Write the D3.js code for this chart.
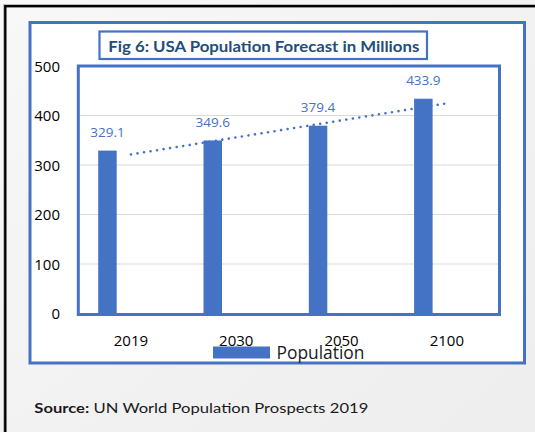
<!DOCTYPE html>
<html>
<head>
<meta charset="utf-8">
<script src="https://cdn.jsdelivr.net/npm/d3@7"></script>
<style>
  html, body { margin: 0; padding: 0; background: #f2f2f2; }
  svg { display: block; }
</style>
</head>
<body>
<svg id="chart" width="535" height="432"></svg>
<script>
// Population forecast, millions
const years = ["2019", "2030", "2050", "2100"];
const population = [329.1, 349.6, 379.4, 433.9];
const yTicks = [0, 100, 200, 300, 400, 500];
const seriesName = "Population";
const titleText = "Fig 6: USA Population Forecast in Millions";
const sourceLabel = "Source:";
const sourceText = " UN World Population Prospects 2019";

const blue = "#4472c4";
const svg = d3.select("#chart");

// page background with a soft light gradient
const defs = svg.append("defs");
const bg = defs.append("linearGradient").attr("id", "bg")
  .attr("x1", 0).attr("y1", 0).attr("x2", 1).attr("y2", 1);
bg.append("stop").attr("offset", "0%").attr("stop-color", "#f8f8f8");
bg.append("stop").attr("offset", "60%").attr("stop-color", "#f1f1f1");
bg.append("stop").attr("offset", "100%").attr("stop-color", "#eeeeee");
svg.append("rect").attr("width", 535).attr("height", 432).attr("fill", "url(#bg)");

// slide frame (top and left edges)
svg.append("rect").attr("x", 3.5).attr("y", 4.5).attr("width", 560).attr("height", 460)
  .attr("fill", "none").attr("stroke", "#bbbbbb").attr("stroke-width", 1);
svg.append("rect").attr("x", 5.3).attr("y", 6.2).attr("width", 560).attr("height", 460)
  .attr("fill", "none").attr("stroke", "#000").attr("stroke-width", 2.4);

// chart container
svg.append("rect").attr("x", 30).attr("y", 22.5).attr("width", 494.5).attr("height", 340.5)
  .attr("fill", "#fff").attr("stroke", blue).attr("stroke-width", 3);

// scales
const plot = { left: 78.3, right: 499.5, top: 66, bottom: 313.5 };
const x = d3.scaleBand().domain(years).range([plot.left, plot.right]).padding(0);
const y = d3.scaleLinear().domain([0, 500]).range([plot.bottom, plot.top]);
const barW = 18.5;
const barShift = -23.5; // bars sit left of the category centre
const cx = c => x(c) + x.bandwidth() / 2;

// gridlines
svg.append("g").selectAll("line").data(yTicks.filter(t => t > 0 && t < 500)).join("line")
  .attr("x1", plot.left).attr("x2", plot.right)
  .attr("y1", d => y(d)).attr("y2", d => y(d))
  .attr("stroke", "#d9d9d9").attr("stroke-width", 1.2);

// y axis labels
const yAxis = d3.axisLeft(y).tickValues(yTicks).tickSize(0).tickPadding(0);
const gy = svg.append("g").attr("transform", "translate(60,0)").call(yAxis);
gy.select(".domain").remove();
gy.selectAll("text").attr("font-family", "Open Sans, sans-serif").attr("font-size", 15)
  .attr("fill", "#000").attr("dy", "0.36em");

// x axis labels
const xAxis = d3.axisBottom(x).tickSize(0).tickPadding(0);
const gx = svg.append("g").attr("transform", "translate(0,345.5)").call(xAxis);
gx.select(".domain").remove();
gx.selectAll("text").attr("font-family", "Open Sans, sans-serif").attr("font-size", 15)
  .attr("fill", "#000").attr("dy", 0);

// bars
svg.append("g").selectAll("rect").data(years).join("rect")
  .attr("x", (c) => cx(c) + barShift - barW / 2)
  .attr("width", barW)
  .attr("y", (c, i) => y(population[i]))
  .attr("height", (c, i) => y(0) - y(population[i]))
  .attr("fill", blue);

// value labels
svg.append("g").selectAll("text").data(years).join("text")
  .attr("x", c => cx(c) + barShift)
  .attr("y", (c, i) => y(population[i]) - 13.5)
  .attr("text-anchor", "middle")
  .attr("font-family", "Open Sans, sans-serif").attr("font-size", 13.5)
  .attr("fill", blue)
  .text((c, i) => population[i].toFixed(1));

// linear trendline (least squares over category index)
const n = population.length;
const idx = d3.range(1, n + 1);
const mx = d3.mean(idx), my = d3.mean(population);
const slope = d3.sum(idx, (k, i) => (k - mx) * (population[i] - my)) / d3.sum(idx, k => (k - mx) ** 2);
const icpt = my - slope * mx;
const trend = years.map((c, i) => [cx(c), y(icpt + slope * (i + 1))]);
svg.append("path")
  .attr("d", d3.line()(trend))
  .attr("fill", "none").attr("stroke", blue).attr("stroke-width", 2.6)
  .attr("stroke-linecap", "round").attr("stroke-dasharray", "0.01 6.6");

// plot area border
svg.append("rect").attr("x", plot.left).attr("y", plot.top)
  .attr("width", plot.right - plot.left).attr("height", plot.bottom - plot.top + 1)
  .attr("fill", "none").attr("stroke", blue).attr("stroke-width", 3);

// title box
svg.append("rect").attr("x", 99.5).attr("y", 31.5).attr("width", 327.5).attr("height", 27.5)
  .attr("fill", "#fff").attr("stroke", blue).attr("stroke-width", 2.2);
svg.append("text").attr("x", 108.3).attr("y", 51.7)
  .attr("font-family", "Lato, sans-serif").attr("font-weight", 700).attr("font-size", 16)
  .attr("fill", "#1f4e79")
  .attr("textLength", 311).attr("lengthAdjust", "spacingAndGlyphs")
  .text(titleText);

// legend
svg.append("rect").attr("x", 213).attr("y", 346.5).attr("width", 57).attr("height", 12).attr("fill", blue);
svg.append("text").attr("x", 276.5).attr("y", 358.5)
  .attr("font-family", "Open Sans, sans-serif").attr("font-size", 17.5).attr("fill", "#1a1a1a")
  .attr("textLength", 88).attr("lengthAdjust", "spacingAndGlyphs")
  .text(seriesName);

// source note
const src = svg.append("text").attr("x", 34.3).attr("y", 413.3)
  .attr("font-family", "Lato, sans-serif").attr("font-size", 14).attr("fill", "#1a1a1a")
  .attr("textLength", 334).attr("lengthAdjust", "spacingAndGlyphs");
src.append("tspan").attr("font-weight", 700).text(sourceLabel);
src.append("tspan").text(sourceText);
</script>
</body>
</html>
